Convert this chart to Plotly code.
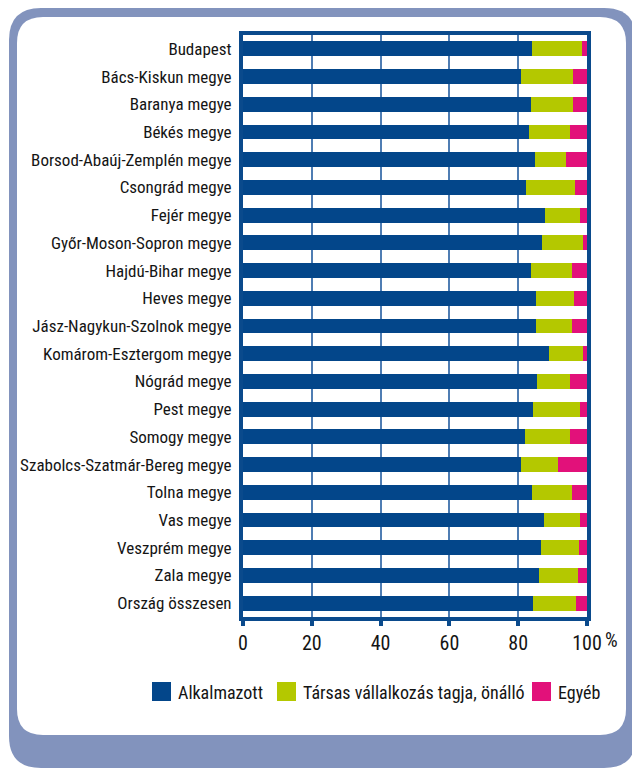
import plotly.graph_objects as go

categories = [
    "Budapest", "Bács-Kiskun megye", "Baranya megye", "Békés megye",
    "Borsod-Abaúj-Zemplén megye", "Csongrád megye", "Fejér megye",
    "Győr-Moson-Sopron megye", "Hajdú-Bihar megye", "Heves megye",
    "Jász-Nagykun-Szolnok megye", "Komárom-Esztergom megye", "Nógrád megye",
    "Pest megye", "Somogy megye", "Szabolcs-Szatmár-Bereg megye",
    "Tolna megye", "Vas megye", "Veszprém megye", "Zala megye",
    "Ország összesen",
]
alkalmazott = [84.0, 80.7, 83.6, 83.1, 84.9, 82.3, 87.7, 86.8, 83.6, 85.1,
               85.1, 88.9, 85.4, 84.2, 81.9, 80.7, 83.9, 87.4, 86.5, 86.0, 84.3]
tarsas = [14.4, 15.3, 12.2, 11.9, 9.0, 14.3, 10.3, 11.9, 12.0, 11.2,
          10.5, 9.8, 9.6, 13.9, 13.1, 10.9, 11.7, 10.7, 11.3, 11.5, 12.4]
egyeb = [1.6, 4.0, 4.2, 5.0, 6.1, 3.4, 2.0, 1.3, 4.4, 3.7,
         4.4, 1.3, 5.0, 1.9, 5.0, 8.4, 4.4, 1.9, 2.2, 2.5, 3.3]
series_names = ["Alkalmazott", "Társas vállalkozás tagja, önálló", "Egyéb"]
series_colors = ["#03468a", "#b4c800", "#e2117a"]
tick_vals = [0, 20, 40, 60, 80, 100]
tick_text = ["0", "20", "40", "60", "80", "100"]
unit_label = "%"

W, H = 632, 769
ML, MR, MT, MB = 243, 45, 35, 152
PW, PH = W - ML - MR, H - MT - MB
FONT = "Roboto Condensed, DejaVu Sans Condensed, sans-serif"
AXIS_BLUE = "#0a4a8c"
TEXT = "#141414"


def px(x):
    return (x - ML) / PW


def py(y):
    return 1 - (y - MT) / PH


def rounded(x0, y0, x1, y1, r):
    pts = [
        ("M", [(x0 + r, y0)]), ("L", [(x1 - r, y0)]), ("Q", [(x1, y0), (x1, y0 + r)]),
        ("L", [(x1, y1 - r)]), ("Q", [(x1, y1), (x1 - r, y1)]),
        ("L", [(x0 + r, y1)]), ("Q", [(x0, y1), (x0, y1 - r)]),
        ("L", [(x0, y0 + r)]), ("Q", [(x0, y0), (x0 + r, y0)]),
    ]
    s = ""
    for cmd, ps in pts:
        s += cmd + " " + " ".join(f"{px(a):.5f},{py(b):.5f}" for a, b in ps) + " "
    return s + "Z"


fig = go.Figure()
for name, vals, col in zip(series_names, [alkalmazott, tarsas, egyeb], series_colors):
    fig.add_trace(go.Bar(
        y=categories, x=vals, name=name, orientation="h",
        marker=dict(color=col, line=dict(width=0)), showlegend=False,
    ))

shapes = [
    dict(type="path", xref="paper", yref="paper", layer="below",
         path=rounded(9, 8, 636, 768, 32), fillcolor="#8293bd", line=dict(width=0)),
    dict(type="path", xref="paper", yref="paper", layer="below",
         path=rounded(17, 17, 626, 735, 26), fillcolor="#ffffff", line=dict(width=0)),
]

annotations = []
leg_sq_x = [152, 277, 532]
for i, (name, col) in enumerate(zip(series_names, series_colors)):
    x0 = leg_sq_x[i]
    shapes.append(dict(type="rect", xref="paper", yref="paper",
                       x0=px(x0), x1=px(x0 + 19), y0=py(701), y1=py(682),
                       fillcolor=col, line=dict(width=0)))
    annotations.append(dict(xref="paper", yref="paper", x=px(x0 + 24), y=py(692),
                            xanchor="left", yanchor="middle", showarrow=False,
                            text=name, font=dict(family=FONT, size=18, color=TEXT)))

annotations.append(dict(xref="x", yref="paper", x=100, y=0, xanchor="left",
                        yanchor="top", xshift=16, yshift=-9, showarrow=False,
                        text=unit_label, font=dict(family=FONT, size=20, color=TEXT)))

fig.update_layout(
    width=W, height=H,
    margin=dict(l=ML, r=MR, t=MT, b=MB, pad=0),
    barmode="stack", bargap=0.46,
    paper_bgcolor="white", plot_bgcolor="white",
    shapes=shapes, annotations=annotations,
    font=dict(family=FONT, color=TEXT),
    xaxis=dict(
        range=[0, 100], tickmode="array", tickvals=tick_vals, ticktext=tick_text,
        showgrid=True, gridcolor="#4f7db3", gridwidth=1.5,
        showline=True, linecolor=AXIS_BLUE, linewidth=4, mirror=True,
        ticks="outside", ticklen=5, tickwidth=4, tickcolor=AXIS_BLUE,
        tickfont=dict(family=FONT, size=20, color=TEXT),
        zeroline=False, fixedrange=True, automargin=False,
    ),
    yaxis=dict(
        autorange="reversed", showgrid=False,
        showline=True, linecolor=AXIS_BLUE, linewidth=4, mirror=True,
        ticks="", ticklabelstandoff=4,
        tickfont=dict(family=FONT, size=17, color=TEXT),
        fixedrange=True, automargin=False,
    ),
)

fig.write_html(
    "out.html",
    config={"displayModeBar": False},
    post_script="document.body.style.margin='0';document.body.style.overflow='hidden';",
)
